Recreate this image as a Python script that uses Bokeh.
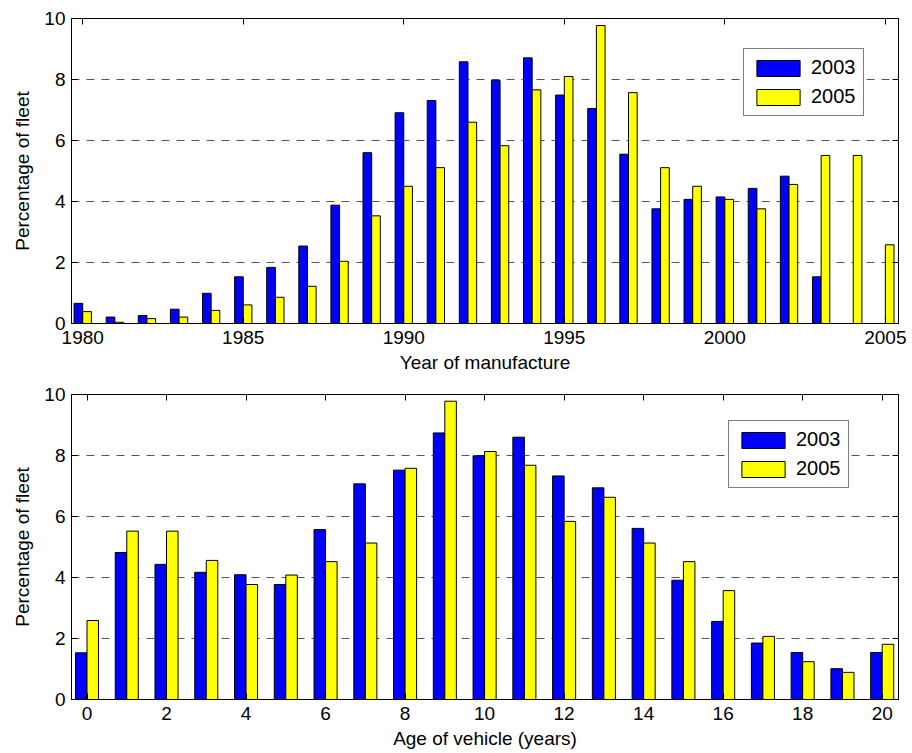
from bokeh.plotting import figure
from bokeh.models import (ColumnDataSource, Range1d, FixedTicker, LinearAxis, Legend,
                          CustomLabelingPolicy)
from bokeh.layouts import column
from bokeh.transform import dodge
from bokeh.embed import file_html
from bokeh.resources import INLINE

# ---- data ----
years = list(range(1980, 2006))
top_2003 = [0.66, 0.21, 0.26, 0.47, 0.99, 1.53, 1.84, 2.54, 3.88, 5.60, 6.91, 7.31, 8.58,
            7.97, 8.71, 7.49, 7.05, 5.55, 3.76, 4.07, 4.15, 4.43, 4.83, 1.53, 0.0, 0.0]
top_2005 = [0.39, 0.04, 0.16, 0.21, 0.43, 0.61, 0.86, 1.22, 2.04, 3.53, 4.50, 5.11, 6.60,
            5.83, 7.66, 8.10, 9.77, 7.57, 5.11, 4.50, 4.07, 3.76, 4.56, 5.51, 5.51, 2.58]

ages = list(range(0, 21))
bot_2003 = [1.53, 4.82, 4.43, 4.17, 4.09, 3.77, 5.57, 7.07, 7.52, 8.74, 7.99, 8.60, 7.33,
            6.94, 5.61, 3.91, 2.56, 1.85, 1.54, 1.01, 1.54]
bot_2005 = [2.59, 5.52, 5.52, 4.56, 3.77, 4.08, 4.52, 5.13, 7.58, 9.78, 8.13, 7.68, 5.84,
            6.63, 5.13, 4.52, 3.57, 2.07, 1.24, 0.89, 1.81]

series_labels = ["2003", "2005"]
year_ticks = [1980, 1985, 1990, 1995, 2000, 2005]
age_ticks = list(range(0, 21, 2))
y_ticks = [0, 2, 4, 6, 8, 10]

FONT = "Liberation Sans"
BLUE = "#0000FF"
YELLOW = "#FFFF00"

NO_LABELS = CustomLabelingPolicy(
    code="try { return new indices.constructor(indices.size, 0) } catch (e) { return indices }")


def style_axis(ax, ticks, show_labels=True):
    ax.ticker = FixedTicker(ticks=ticks)
    ax.minor_tick_line_color = None
    ax.major_tick_in = 6
    ax.major_tick_out = 0
    ax.major_tick_line_color = "black"
    ax.axis_line_color = "black"
    ax.major_label_text_font = FONT
    ax.major_label_text_color = "black"
    ax.axis_label_text_font = FONT
    ax.axis_label_text_font_style = "normal"
    ax.axis_label_text_color = "black"
    ax.axis_label_text_font_size = "19px"
    if show_labels:
        ax.major_label_text_font_size = "19px"
    else:
        ax.major_label_policy = NO_LABELS
        ax.major_label_text_font_size = "0px"
        ax.major_label_standoff = 0


def make_plot(xs, s1, s2, xr, xticks, xlabel, width_bar, height, bt, bb, bl, br, legend_loc):
    p = figure(width=912, height=height, output_backend="svg", toolbar_location=None,
               x_range=Range1d(*xr), y_range=Range1d(0, 10),
               min_border_left=bl, min_border_right=br, min_border_top=bt, min_border_bottom=bb)
    src = ColumnDataSource(dict(x=xs, a=s1, b=s2))
    r1 = p.vbar(x=dodge("x", -width_bar / 2, range=p.x_range), top="a", width=width_bar,
                source=src, fill_color=BLUE, line_color="black", line_width=1)
    r2 = p.vbar(x=dodge("x", width_bar / 2, range=p.x_range), top="b", width=width_bar,
                source=src, fill_color=YELLOW, line_color="black", line_width=1)

    p.xgrid.grid_line_color = None
    p.ygrid.ticker = FixedTicker(ticks=y_ticks)
    p.ygrid.grid_line_color = "#555555"
    p.ygrid.grid_line_dash = "8 7"
    p.ygrid.grid_line_width = 1

    p.outline_line_color = "black"
    p.outline_line_width = 1
    p.outline_line_alpha = 1

    style_axis(p.xaxis[0], xticks)
    p.xaxis[0].axis_label = xlabel
    p.xaxis[0].major_label_standoff = 7
    p.xaxis[0].axis_label_standoff = 5
    style_axis(p.yaxis[0], y_ticks)
    p.yaxis[0].axis_label = "Percentage of fleet"
    p.yaxis[0].major_label_standoff = 6
    p.yaxis[0].axis_label_standoff = 8

    top_ax = LinearAxis()
    style_axis(top_ax, xticks, show_labels=False)
    p.add_layout(top_ax, "above")
    right_ax = LinearAxis()
    style_axis(right_ax, y_ticks, show_labels=False)
    p.add_layout(right_ax, "right")

    legend = Legend(items=[(series_labels[0], [r1]), (series_labels[1], [r2])],
                    location=legend_loc)
    legend.label_text_font = FONT
    legend.label_text_font_size = "20px"
    legend.label_text_color = "black"
    legend.glyph_width = 54
    legend.glyph_height = 20
    legend.label_height = 20
    legend.label_standoff = 6
    legend.spacing = 6
    legend.padding = 7
    legend.margin = 0
    legend.border_line_color = "black"
    legend.border_line_width = 1
    legend.background_fill_alpha = 1
    p.add_layout(legend, "center")
    return p


p1 = make_plot(years, top_2003, top_2005, (1979.65, 2005.41), year_ticks,
               "Year of manufacture", 0.27, 382, 18, 59, 71, 12, (672, 207))
p2 = make_plot(ages, bot_2003, bot_2005, (-0.39, 20.41), age_ticks,
               "Age of vehicle (years)", 0.29, 371, 12, 54, 67, 14, (657, 211))

layout = column(p1, p2, spacing=0)
open("out.html", "w").write(file_html(layout, INLINE))
